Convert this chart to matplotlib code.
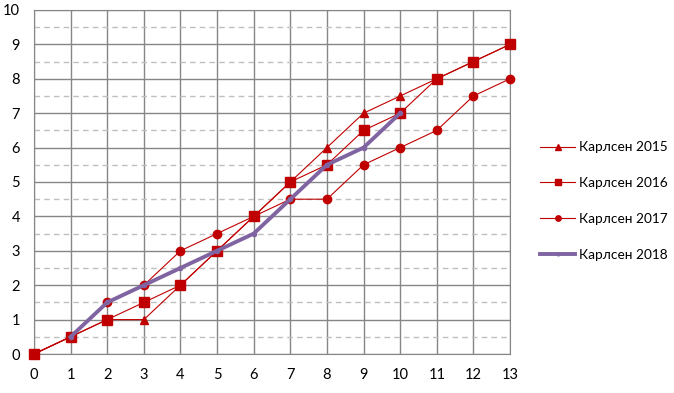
import numpy as np
import matplotlib.pyplot as plt
from matplotlib.ticker import MultipleLocator

rounds = list(range(14))
carlsen_2015 = [0, 0.5, 1, 1, 2, 3, 4, 5, 6, 7, 7.5, 8, 8.5, 9]
carlsen_2016 = [0, 0.5, 1, 1.5, 2, 3, 4, 5, 5.5, 6.5, 7, 8, 8.5, 9]
carlsen_2017 = [0, 0.5, 1.5, 2, 3, 3.5, 4, 4.5, 4.5, 5.5, 6, 6.5, 7.5, 8]
rounds_2018 = list(range(1, 11))
carlsen_2018 = [0.5, 1.5, 2, 2.5, 3, 3.5, 4.5, 5.5, 6, 7]

plt.rcParams['font.family'] = ['Lato', 'DejaVu Sans']

fig = plt.figure(figsize=(6.74, 3.93), dpi=100)
ax = fig.add_axes([34 / 674, 1 - 354 / 393, 476 / 674, 344 / 393])

red = '#C00000'
ax.plot(rounds, carlsen_2015, color=red, lw=0.8, marker='^', ms=6, label='Карлсен 2015',
        zorder=3, clip_on=False)
ax.plot(rounds, carlsen_2016, color=red, lw=0.8, marker='s', ms=6.5, label='Карлсен 2016',
        zorder=3, clip_on=False)
ax.plot(rounds, carlsen_2017, color=red, lw=0.8, marker='o', ms=6, label='Карлсен 2017',
        zorder=3, clip_on=False)
ax.plot(rounds_2018, carlsen_2018, color='#8064A2', lw=2.8, marker='o', ms=3,
        label='Карлсен 2018', zorder=4)

ax.set_xlim(0, 13)
ax.set_ylim(0, 10)
ax.xaxis.set_major_locator(MultipleLocator(1))
ax.yaxis.set_major_locator(MultipleLocator(1))
ax.yaxis.set_minor_locator(MultipleLocator(0.5))
ax.grid(True, which='major', color='#868686', lw=1, zorder=0)
ax.grid(True, which='minor', axis='y', color='#BFBFBF', lw=1, ls=(0, (4, 3)), zorder=0)
ax.set_axisbelow(True)
for s in ax.spines.values():
    s.set_color('#868686')
ax.tick_params(which='both', length=0, labelsize=10.5)
ax.tick_params(axis='x', pad=10)
ax.tick_params(axis='y', pad=10)

ax.legend(loc='center left', bbox_to_anchor=(533 / 674, 1 - 201 / 393), bbox_transform=fig.transFigure,
          frameon=False, fontsize=9.8, labelspacing=1.75, handlelength=2.6, handletextpad=0.3,
          markerscale=0.65, borderpad=0)

fig.savefig('out.png', dpi=100)
